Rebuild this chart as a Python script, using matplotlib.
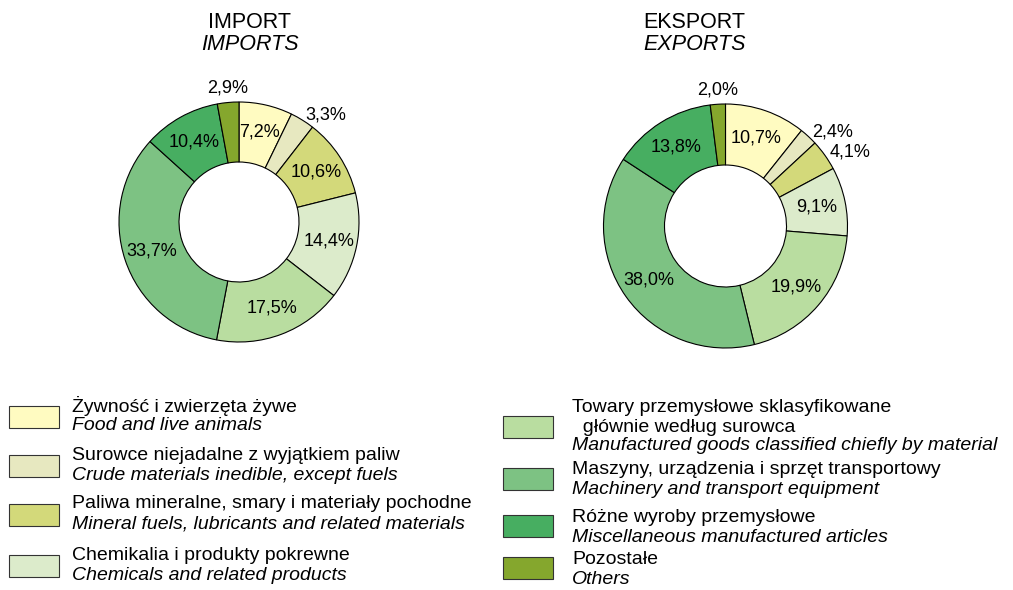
import numpy as np
import matplotlib.pyplot as plt
from matplotlib.patches import Rectangle

plt.rcParams['font.family'] = ['Liberation Sans', 'DejaVu Sans']

# SITC sections, shares in % of total trade
categories_pl = [
    'Żywność i zwierzęta żywe',
    'Surowce niejadalne z wyjątkiem paliw',
    'Paliwa mineralne, smary i materiały pochodne',
    'Chemikalia i produkty pokrewne',
    'Towary przemysłowe sklasyfikowane\n  głównie według surowca',
    'Maszyny, urządzenia i sprzęt transportowy',
    'Różne wyroby przemysłowe',
    'Pozostałe',
]
categories_en = [
    'Food and live animals',
    'Crude materials inedible, except fuels',
    'Mineral fuels, lubricants and related materials',
    'Chemicals and related products',
    'Manufactured goods classified chiefly by material',
    'Machinery and transport equipment',
    'Miscellaneous manufactured articles',
    'Others',
]
imports = [7.2, 3.3, 10.6, 14.4, 17.5, 33.7, 10.4, 2.9]
exports = [10.7, 2.4, 4.1, 9.1, 19.9, 38.0, 13.8, 2.0]

colors = ['#FFFBC1', '#E7E8C0', '#D3D97A', '#DCEBCB',
          '#B9DDA0', '#7DC283', '#47AE61', '#85A72D']

W, H = 1013, 590
LEG_FS = 14
fig = plt.figure(figsize=(W / 100, H / 100), dpi=100)
ax = fig.add_axes([0, 0, 1, 1])


def donut(values, cx, cy, r_out, r_in, title, title_en, tx):
    c = (cx, H - cy)
    ax.pie(values, colors=colors, startangle=90, counterclock=False,
           center=c, radius=r_out,
           wedgeprops=dict(width=r_out - r_in, edgecolor='black', linewidth=0.8))
    total = sum(values)
    start = 90.0
    for v in values:
        mid = np.radians(start - 360 * v / total / 2)
        start -= 360 * v / total
        txt = f'{v:.1f}%'.replace('.', ',')
        if v >= 5:
            r = (r_out + r_in) / 2 + 2
            ax.text(c[0] + r * np.cos(mid), c[1] + r * np.sin(mid), txt,
                    ha='center', va='center', fontsize=13)
        else:
            r = r_out * 1.05
            cs, sn = np.cos(mid), np.sin(mid)
            if cs > 0.3:
                ha, va = 'left', 'center'
            elif cs < -0.3:
                ha, va = 'right', 'center'
            else:
                ha, va = 'center', 'bottom'
            ax.text(c[0] + r * cs, c[1] + r * sn, txt,
                    ha=ha, va=va, fontsize=13)
    ax.text(tx, H - 22, title, ha='center', va='center', fontsize=15.5)
    ax.text(tx + 1, H - 44, title_en, ha='center', va='center',
            fontsize=15.5, style='italic')


donut(imports, 239, 222, 120, 60, 'IMPORT', 'IMPORTS', 249)
donut(exports, 725.5, 226, 122, 61, 'EKSPORT', 'EXPORTS', 694)

# legend, two columns drawn in pixel space
def legend_entry(i, x_box, y_box, x_txt, y_lines):
    ax.add_patch(Rectangle((x_box, H - y_box - 11), 50, 22,
                           facecolor=colors[i], edgecolor='#333333',
                           linewidth=0.8))
    lines = categories_pl[i].split('\n')
    for k, line in enumerate(lines):
        ax.text(x_txt, H - y_lines[k], line, ha='left', va='center',
                fontsize=LEG_FS)
    ax.text(x_txt, H - y_lines[len(lines)], categories_en[i], ha='left',
            va='center', fontsize=LEG_FS, style='italic')


left_rows = [417, 466, 515, 566]
for i, yb in enumerate(left_rows):
    legend_entry(i, 9, yb, 72, [yb - 11, yb + 9])

legend_entry(4, 503, 427, 572, [408, 427, 446])
legend_entry(5, 503, 479, 572, [469, 489])
legend_entry(6, 503, 526, 572, [518, 537])
legend_entry(7, 503, 568, 572, [560, 579])

ax.set_xlim(0, W)
ax.set_ylim(0, H)
ax.set_aspect('auto')
ax.axis('off')

fig.savefig('out.png', dpi=100)
